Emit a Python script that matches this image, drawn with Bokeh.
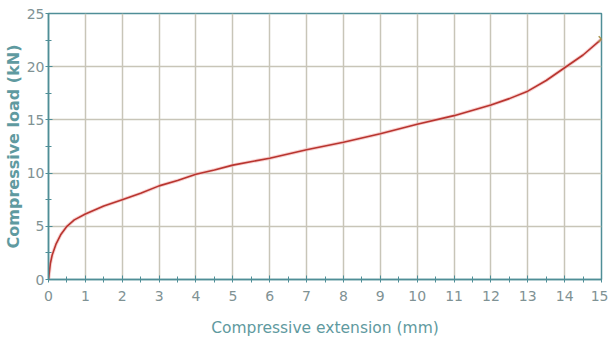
from bokeh.plotting import figure
from bokeh.models import FixedTicker, Range1d
from bokeh.embed import file_html
from bokeh.resources import INLINE

# data
extension_mm = [0, 0.05, 0.1, 0.2, 0.33, 0.5, 0.7, 1, 1.5, 2, 2.5, 3, 3.5, 4, 4.5, 5,
                6, 7, 8, 9, 10, 11, 12, 12.5, 13, 13.5, 14, 14.5, 15]
load_kN = [0, 1.5, 2.3, 3.3, 4.2, 5.0, 5.6, 6.15, 6.9, 7.5, 8.1, 8.8, 9.3, 9.9, 10.3, 10.75,
           11.4, 12.2, 12.9, 13.7, 14.6, 15.4, 16.4, 17.0, 17.7, 18.7, 19.9, 21.1, 22.6]
x_ticks = list(range(0, 16))
x_minor = [i + 0.5 for i in range(0, 15)]
y_ticks = [0, 5, 10, 15, 20, 25]
y_minor = [2.5, 7.5, 12.5, 17.5, 22.5]
end_x = [extension_mm[-1]]
end_y = [load_kN[-1]]

teal = "#4f8e97"
label_col = "#5f9aa0"
tick_col = "#7f9294"
grid_col = "#c8c5b8"

p = figure(width=608, height=339, output_backend="svg", toolbar_location=None,
           x_range=Range1d(0, 15), y_range=Range1d(0, 25),
           min_border_left=0, min_border_right=7, min_border_top=13, min_border_bottom=0)

p.background_fill_color = "white"
p.border_fill_color = "white"
p.outline_line_color = teal
p.outline_line_width = 1.5

p.xaxis.ticker = FixedTicker(ticks=x_ticks, minor_ticks=x_minor)
p.yaxis.ticker = FixedTicker(ticks=y_ticks, minor_ticks=y_minor)

p.xgrid.grid_line_color = grid_col
p.ygrid.grid_line_color = grid_col
p.xgrid.grid_line_width = 1.5
p.ygrid.grid_line_width = 1.5

for ax in (p.xaxis, p.yaxis):
    ax.axis_line_color = teal
    ax.axis_line_width = 1.5
    ax.major_tick_line_color = teal
    ax.minor_tick_line_color = teal
    ax.major_tick_in = 4
    ax.major_tick_out = 3
    ax.minor_tick_in = 3
    ax.minor_tick_out = 3
    ax.major_label_text_color = tick_col
    ax.major_label_text_font = "DejaVu Sans"
    ax.major_label_text_font_size = "14px"
    ax.axis_label_text_color = label_col
    ax.axis_label_text_font = "DejaVu Sans"
    ax.axis_label_text_font_style = "normal"

p.xaxis.axis_label = "Compressive extension (mm)"
p.xaxis.axis_label_text_font_size = "15.5px"
p.xaxis.major_label_standoff = 8
p.xaxis.axis_label_standoff = 15

p.yaxis.axis_label = "Compressive load (kN)"
p.yaxis.axis_label_text_font_size = "16px"
p.yaxis.axis_label_text_font_style = "bold"
p.yaxis.major_label_standoff = 1
p.yaxis.axis_label_standoff = 1

p.line(extension_mm, load_kN, line_color="#f3b0b0", line_width=3.5, line_alpha=0.6)
p.line(extension_mm, load_kN, line_color="#b8352f", line_width=1.6)
p.scatter(end_x, end_y, marker="x", size=8, line_color="#a8964e", line_width=1.5)

open("out.html", "w").write(file_html(p, INLINE))
